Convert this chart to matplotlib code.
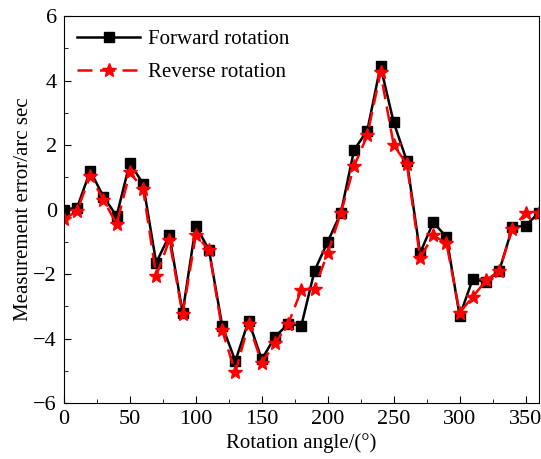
import numpy as np
import matplotlib
matplotlib.use("Agg")
import matplotlib.pyplot as plt
from matplotlib.ticker import MultipleLocator

plt.rcParams['font.family'] = ['Liberation Serif', 'DejaVu Serif']

# Angulos de rotacion (grados)
angles = list(range(0, 361, 10))

forward = [0.0, 0.05, 1.2, 0.4, -0.2, 1.45, 0.8, -1.65, -0.8, -3.2,
           -0.5, -1.25, -3.6, -4.7, -3.45, -4.65, -3.95, -3.55, -3.6, -1.9,
           -1.0, -0.1, 1.85, 2.45, 4.45, 2.7, 1.5, -1.35, -0.4, -0.85,
           -3.3, -2.15, -2.25, -1.9, -0.55, -0.5, -0.1]

reverse = [-0.3, -0.05, 1.05, 0.3, -0.45, 1.15, 0.65, -2.05, -0.95, -3.25,
           -0.8, -1.25, -3.75, -5.05, -3.55, -4.75, -4.15, -3.55, -2.5, -2.45,
           -1.35, -0.1, 1.35, 2.3, 4.25, 2.0, 1.4, -1.5, -0.8, -1.05,
           -3.2, -2.7, -2.2, -1.9, -0.6, -0.1, -0.1]

fig = plt.figure(figsize=(5.41, 4.59), dpi=100)
ax = fig.add_axes([0.118, 0.122, 0.878, 0.843])

ax.plot(angles, forward, color='black', linewidth=1.8, marker='s',
        markersize=7.5, label='Forward rotation')
ax.plot(angles, reverse, color='red', linewidth=1.8, linestyle=(0, (6, 3)),
        marker='*', markersize=10, label='Reverse rotation')

ax.set_xlim(0, 360)
ax.set_ylim(-6, 6)
ax.xaxis.set_major_locator(MultipleLocator(50))
ax.xaxis.set_minor_locator(MultipleLocator(25))
ax.yaxis.set_major_locator(MultipleLocator(2))
ax.yaxis.set_minor_locator(MultipleLocator(1))
ax.tick_params(which='both', direction='in', labelsize=16, pad=5)
ax.tick_params(which='major', length=5)
ax.tick_params(which='minor', length=3)

ax.set_xlabel('Rotation angle/(°)', fontsize=15, labelpad=3)
ax.set_ylabel('Measurement error/arc sec', fontsize=15, labelpad=0)

ax.legend(loc='upper left', frameon=False, fontsize=15, handlelength=3.0,
          handletextpad=0.4, labelspacing=0.65, borderaxespad=0.25)

fig.savefig('out.png', dpi=100)
